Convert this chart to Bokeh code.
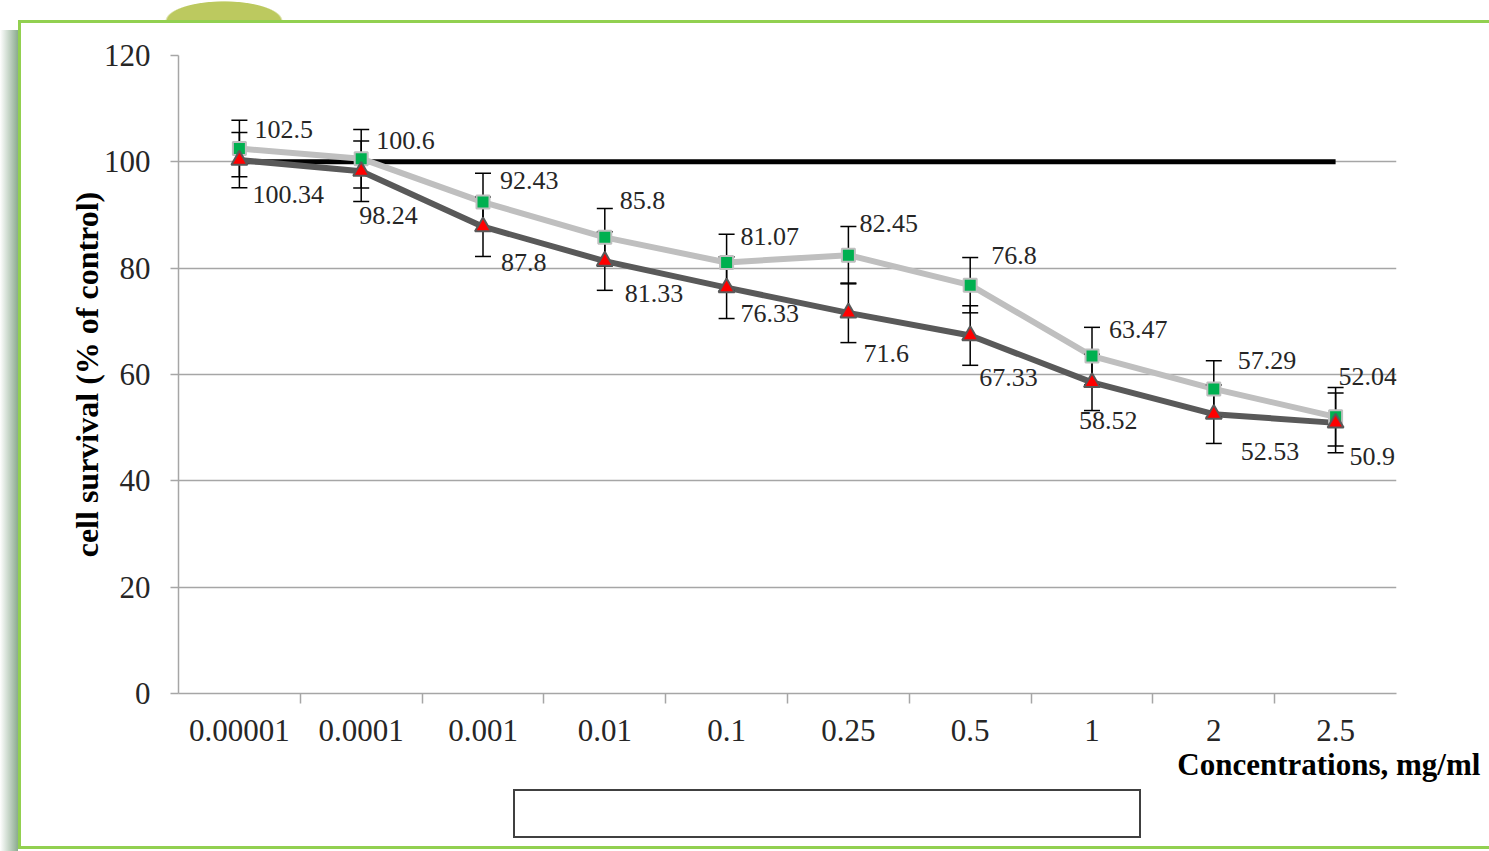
from bokeh.plotting import figure
from bokeh.models import (ColumnDataSource, FactorRange, Range1d, CategoricalAxis, FixedTicker,
                          Whisker, TeeHead, Legend, LegendItem)
from bokeh.core.properties import value
from bokeh.embed import file_html
from bokeh.resources import INLINE

# ---------------- data ----------------
categories = ["0.00001", "0.0001", "0.001", "0.01", "0.1", "0.25", "0.5", "1", "2", "2.5"]
cell_control = [100, 100, 100, 100, 100, 100, 100, 100, 100, 100]
vero = [102.5, 100.6, 92.43, 85.8, 81.07, 82.45, 76.8, 63.47, 57.29, 52.04]
vero_err = [5.3, 5.5, 5.4, 5.4, 5.3, 5.4, 5.2, 5.4, 5.3, 5.5]
rd = [100.34, 98.24, 87.8, 81.33, 76.33, 71.6, 67.33, 58.52, 52.53, 50.9]
rd_err = [5.2, 5.7, 5.6, 5.5, 5.8, 5.6, 5.6, 5.3, 5.5, 5.6]
y_ticks = [0, 20, 40, 60, 80, 100, 120]
vero_labels = ["102.5", "100.6", "92.43", "85.8", "81.07", "82.45", "76.8", "63.47", "57.29", "52.04"]
rd_labels = ["100.34", "98.24", "87.8", "81.33", "76.33", "71.6", "67.33", "58.52", "52.53", "50.9"]
x_title_text = "Concentrations, mg/ml"
y_title_text = "cell survival (% of control)"

# ---------------- styling (label placement in screen px) ----------------
vero_dx = [15, 15, 17, 15, 14, 11, 21, 17, 24, 3]
vero_dy = [-19, -18, -22, -37, -26, -32, -30, -27, -28, -40]
rd_dx = [13, -2, 18, 20, 14, 15, 9, -13, 27, 14]
rd_dy = [34, 44, 36, 32, 26, 41, 42, 38, 37, 34]

W, H = 1489, 851
FL, FR, FT, FB = 178, 1396, 55, 693   # plot frame edges on the page

SERIF = "Liberation Serif"
GRID = "#A6A6A6"
TXT = "#262626"

# page decoration (green slide frame, its shadow, the olive blob, and the legend box) as CSS background
layers = [
    ("linear-gradient(#404040, #404040)", "513px 789px", "628px 2px"),
    ("linear-gradient(#404040, #404040)", "513px 836px", "628px 2px"),
    ("linear-gradient(#404040, #404040)", "513px 789px", "2px 49px"),
    ("linear-gradient(#404040, #404040)", "1139px 789px", "2px 49px"),
    ("linear-gradient(#92D050, #92D050)", "18px 20px", "3px 829px"),
    ("linear-gradient(#92D050, #92D050)", "18px 20px", "1471px 3px"),
    ("linear-gradient(#92D050, #92D050)", "18px 846px", "1471px 3px"),
    ("radial-gradient(59px 20px at 50% 100%, #BCC95F 96%, rgba(188,201,95,0) 100%)", "165px 1px", "118px 20px"),
    ("linear-gradient(to right, rgba(140,175,145,0), rgba(110,150,115,0.8))", "0px 30px", "18px 821px"),
]
deco_styles = {
    "background-color": "white",
    "background-image": ", ".join(l[0] for l in layers),
    "background-position": ", ".join(l[1] for l in layers),
    "background-size": ", ".join(l[2] for l in layers),
    "background-repeat": "no-repeat",
}

p = figure(width=W, height=H, frame_width=FR - FL, frame_height=FB - FT, title=None,
           x_range=FactorRange(factors=categories), y_range=Range1d(0, 120),
           output_backend="svg", toolbar_location=None,
           min_border_left=FL, min_border_right=W - FR,
           min_border_top=FT, min_border_bottom=H - FB,
           styles=deco_styles)
p.outline_line_color = None
p.background_fill_color = "white"
p.border_fill_alpha = 0

# y axis
p.yaxis.ticker = FixedTicker(ticks=y_ticks)
p.yaxis.major_tick_out = 8
p.yaxis.major_tick_in = 0
p.yaxis.minor_tick_line_color = None
p.yaxis.axis_line_color = GRID
p.yaxis.axis_line_width = 1.5
p.yaxis.major_tick_line_color = GRID
p.yaxis.major_tick_line_width = 1.5
p.yaxis.major_label_text_font = SERIF
p.yaxis.major_label_text_font_size = "31px"
p.yaxis.major_label_text_color = TXT
p.yaxis.major_label_standoff = 20
p.yaxis.axis_label = y_title_text
p.yaxis.axis_label_text_font = SERIF
p.yaxis.axis_label_text_font_style = "bold"
p.yaxis.axis_label_text_font_size = "32px"
p.yaxis.axis_label_text_color = "black"
p.yaxis.axis_label_standoff = -4

p.ygrid.grid_line_color = GRID
p.ygrid.grid_line_width = 1.5
p.ygrid.level = "image"
p.xgrid.grid_line_color = None

# categorical x axis (labels only)
cat_ax = p.xaxis[0]
cat_ax.major_tick_line_color = None
cat_ax.major_tick_out = 0
cat_ax.major_tick_in = 0
cat_ax.axis_line_color = None
cat_ax.major_label_text_font = SERIF
cat_ax.major_label_text_font_size = "31px"
cat_ax.major_label_text_color = TXT
cat_ax.major_label_standoff = 16

# boundary ticks between categories (Excel style): a factor range whose
# factor centres fall on the category boundaries
boundaries = ["b%d" % i for i in range(len(categories) + 1)]
p.extra_x_ranges = {"bounds": FactorRange(factors=boundaries, range_padding=-0.5,
                                          range_padding_units="absolute")}
bax = CategoricalAxis(x_range_name="bounds",
                      major_tick_out=10, major_tick_in=0,
                      axis_line_color=GRID, axis_line_width=1.5,
                      major_tick_line_color=GRID, major_tick_line_width=1.5,
                      major_label_text_font_size="1px", major_label_text_alpha=0,
                      major_label_standoff=0)
p.add_layout(bax, "below")

# x axis title, right-hand side under the axis: the last of nine equal slots
# (the other slots are blank)
title_slots = [" " * (i + 1) for i in range(8)] + [x_title_text]
p.extra_x_ranges["xtitle"] = FactorRange(factors=title_slots)
tax = CategoricalAxis(x_range_name="xtitle",
                      major_tick_out=0, major_tick_in=0, major_tick_line_color=None,
                      axis_line_color=None,
                      major_label_text_font=SERIF, major_label_text_font_style="bold",
                      major_label_text_font_size="31px", major_label_text_color="black",
                      major_label_standoff=3)
p.add_layout(tax, "below")

# sources
src_v = ColumnDataSource(dict(x=categories, y=vero, upper=[v + e for v, e in zip(vero, vero_err)],
                              lower=[v - e for v, e in zip(vero, vero_err)], label=vero_labels,
                              dx=vero_dx, dy=vero_dy))
src_r = ColumnDataSource(dict(x=categories, y=rd, upper=[v + e for v, e in zip(rd, rd_err)],
                              lower=[v - e for v, e in zip(rd, rd_err)], label=rd_labels,
                              dx=rd_dx, dy=rd_dy))
src_c = ColumnDataSource(dict(x=categories, y=cell_control))

ctrl_line = p.line("x", "y", source=src_c, line_color="black", line_width=5, level="underlay")
vero_line = p.line("x", "y", source=src_v, line_color="#BFBFBF", line_width=6, level="underlay")
rd_line = p.line("x", "y", source=src_r, line_color="#595959", line_width=6, level="underlay")

for src in (src_v, src_r):
    w = Whisker(source=src, base="x", upper="upper", lower="lower", dimension="height",
                line_color="black", line_width=1.5, level="glyph",
                upper_head=TeeHead(size=16, line_color="black", line_width=1.5),
                lower_head=TeeHead(size=16, line_color="black", line_width=1.5))
    p.add_layout(w)

vero_pts = p.scatter("x", "y", source=src_v, marker="square", size=13,
                     fill_color="#00B050", line_color="#BFBFBF", line_width=2, level="annotation")
rd_pts = p.scatter("x", "y", source=src_r, marker="triangle", size=16,
                   fill_color="#FF0000", line_color="#595959", line_width=2, level="annotation")

for src in (src_v, src_r):
    p.text("x", "y", text="label", source=src, x_offset="dx", y_offset="dy",
           text_font=value(SERIF), text_font_size="26px", text_color=TXT,
           text_align="left", text_baseline="middle")

# legend (below the axis title); a blank title on its left shifts the items right
legend = Legend(items=[LegendItem(label="Cell control", renderers=[ctrl_line]),
                       LegendItem(label="Vero", renderers=[vero_line, vero_pts]),
                       LegendItem(label="RD", renderers=[rd_line, rd_pts])],
                orientation="horizontal", location="top_center", margin=0,
                title="\u2003", title_location="left", title_standoff=44,
                title_text_font=SERIF, title_text_font_size="29px",
                glyph_width=65, glyph_height=20, label_standoff=5, spacing=45,
                padding=2, border_line_color=None, background_fill_alpha=0,
                label_text_font=SERIF, label_text_font_size="29px", label_text_color="black")
p.add_layout(legend, "below")

p.below = [bax, cat_ax, tax, legend]

open("out.html", "w").write(file_html(p, INLINE))
